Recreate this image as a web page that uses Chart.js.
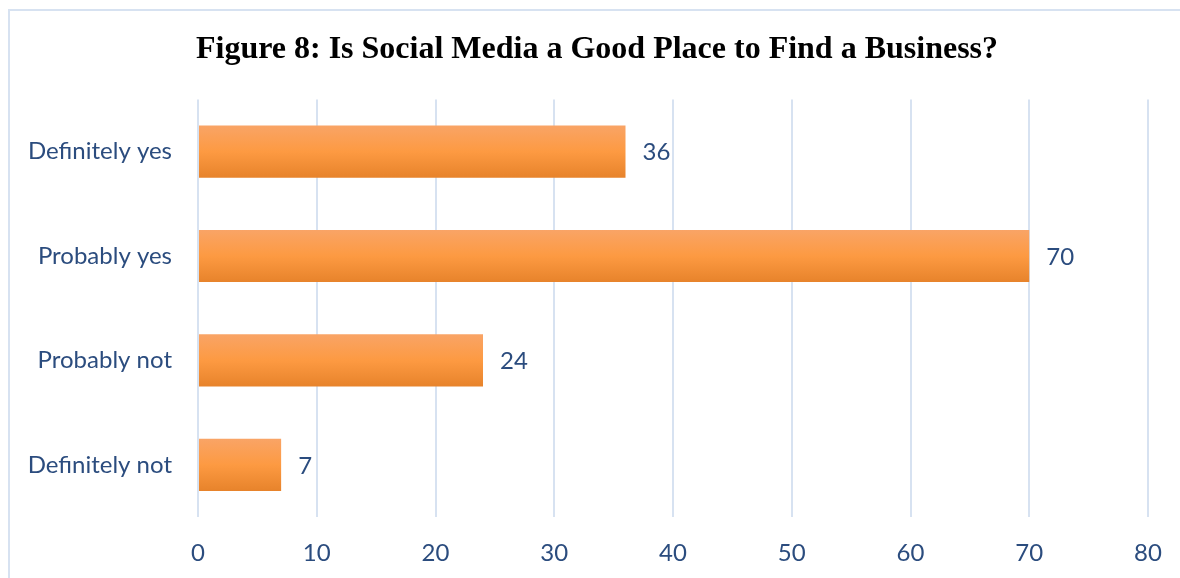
<!DOCTYPE html>
<html>
<head>
<meta charset="utf-8">
<script src="https://cdn.jsdelivr.net/npm/chart.js@4/dist/chart.umd.min.js"></script>
<style>
  html, body { margin: 0; padding: 0; background: #ffffff; }
  #wrap { position: absolute; left: 0; top: 0; width: 1180px; height: 578px; }
</style>
</head>
<body>
<div id="wrap"><canvas id="chart" width="1180" height="578"></canvas></div>
<script>
// Survey answers and counts
const categories = ['Definitely yes', 'Probably yes', 'Probably not', 'Definitely not'];
const responses = [36, 70, 24, 7];
const xTicks = [0, 10, 20, 30, 40, 50, 60, 70, 80];

const TEXT_BLUE = '#2B4C7E';
const GRID_BLUE = '#D7E2F1';
const LABEL_FONT = 'Lato, "Open Sans", sans-serif';
const BAR_FRACTION = 0.5;

// Vertical orange gradient for each bar, built from the category scale
function barFill(ctx) {
  const chart = ctx.chart;
  const area = chart.chartArea;
  const yScale = chart.scales.y;
  if (!area || !yScale) return '#F79646';
  const centre = yScale.getPixelForValue(ctx.dataIndex);
  const half = (area.bottom - area.top) / categories.length * BAR_FRACTION / 2;
  const g = chart.ctx.createLinearGradient(0, centre - half, 0, centre + half);
  g.addColorStop(0, '#F9A466');
  g.addColorStop(0.5, '#FD9A42');
  g.addColorStop(1, '#E7832B');
  return g;
}

// Light frame around the figure
const framePlugin = {
  id: 'frame',
  beforeDraw(chart) {
    const c = chart.ctx;
    c.save();
    c.strokeStyle = '#D7E2F1';
    c.lineWidth = 2;
    c.strokeRect(9, 10, chart.width + 20, chart.height + 20);
    c.restore();
  }
};

// Value written just past the end of each bar
const valueLabels = {
  id: 'valueLabels',
  afterDatasetsDraw(chart) {
    const c = chart.ctx;
    const meta = chart.getDatasetMeta(0);
    c.save();
    c.font = '24px ' + LABEL_FONT;
    c.fillStyle = TEXT_BLUE;
    c.textAlign = 'left';
    c.textBaseline = 'middle';
    meta.data.forEach((bar, i) => {
      c.fillText(String(responses[i]), bar.x + 17, bar.y + 1);
    });
    c.restore();
  }
};

new Chart(document.getElementById('chart'), {
  type: 'bar',
  data: {
    labels: categories,
    datasets: [{
      data: responses,
      backgroundColor: barFill,
      borderWidth: 0,
      barPercentage: BAR_FRACTION,
      categoryPercentage: 1
    }]
  },
  options: {
    indexAxis: 'y',
    responsive: false,
    animation: false,
    layout: { padding: { left: 14, right: 0, top: 0, bottom: 0 } },
    plugins: {
      legend: { display: false },
      tooltip: { enabled: false },
      title: {
        display: true,
        text: 'Figure 8: Is Social Media a Good Place to Find a Business?',
        color: '#000000',
        font: { family: '"Liberation Serif", "Times New Roman", serif', size: 32, weight: 'bold', lineHeight: 1.2 },
        padding: { top: 31, bottom: 30 }
      }
    },
    scales: {
      x: {
        min: 0,
        max: 80,
        afterBuildTicks(scale) { scale.ticks = xTicks.map(v => ({ value: v })); },
        afterFit(scale) {
          scale.height = 61;
          scale.paddingLeft = 0;
          scale.paddingRight = 0;
        },
        grid: { color: GRID_BLUE, lineWidth: 2, drawTicks: false },
        border: { display: false },
        ticks: {
          color: TEXT_BLUE,
          padding: 22,
          font: { family: LABEL_FONT, size: 24 }
        }
      },
      y: {
        afterFit(scale) { scale.width = 184; },
        grid: { display: false, drawTicks: false },
        border: { display: false },
        ticks: {
          color: TEXT_BLUE,
          padding: 26,
          font: { family: LABEL_FONT, size: 24 }
        }
      },
      // empty right-hand margin beside the plot
      yMargin: {
        type: 'category',
        axis: 'y',
        position: 'right',
        labels: categories,
        afterFit(scale) { scale.width = 32; },
        grid: { display: false, drawTicks: false },
        border: { display: false },
        ticks: { display: false }
      }
    }
  },
  plugins: [framePlugin, valueLabels]
});
</script>
</body>
</html>
